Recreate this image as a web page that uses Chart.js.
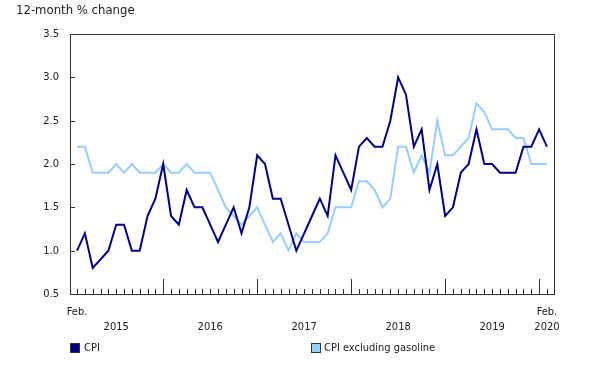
<!DOCTYPE html>
<html>
<head>
<meta charset="utf-8">
<script src="https://cdn.jsdelivr.net/npm/chart.js@4"></script>
<style>
  html, body { margin: 0; padding: 0; background: #fff; }
  #wrap { position: relative; width: 613px; height: 367px; font-family: "DejaVu Sans Condensed", "DejaVu Sans", Verdana, sans-serif; font-stretch: condensed; color: #1a1a1a; }
  #c { position: absolute; left: 0; top: 0; }
  .t { position: absolute; white-space: nowrap; }
  #title { left: 16px; top: 2px; font-size: 13px; }
  .sw { position: absolute; width: 8px; height: 8px; border: 1px solid #333; }
  .lg { font-size: 11px; }
</style>
</head>
<body>
<div id="wrap">
  <canvas id="c" width="613" height="367"></canvas>
  <div id="title" class="t">12-month % change</div>
  <div class="sw" style="left:70px;top:343px;background:#000080;"></div>
  <div class="t lg" style="left:84px;top:341px;">CPI</div>
  <div class="sw" style="left:311px;top:343px;background:#99ccff;"></div>
  <div class="t lg" style="left:324px;top:341px;">CPI excluding gasoline</div>
</div>
<script>
// Months Feb 2015 .. Feb 2020 (61 points)
const startYear = 2015, startMonth = 2;
const cpi = [1.0,1.2,0.8,0.9,1.0,1.3,1.3,1.0,1.0,1.4,1.6,
  2.0,1.4,1.3,1.7,1.5,1.5,1.3,1.1,1.3,1.5,1.2,1.5,
  2.1,2.0,1.6,1.6,1.3,1.0,1.2,1.4,1.6,1.4,2.1,1.9,
  1.7,2.2,2.3,2.2,2.2,2.5,3.0,2.8,2.2,2.4,1.7,2.0,
  1.4,1.5,1.9,2.0,2.4,2.0,2.0,1.9,1.9,1.9,2.2,2.2,
  2.4,2.2];
const cpiExGas = [2.2,2.2,1.9,1.9,1.9,2.0,1.9,2.0,1.9,1.9,1.9,
  2.0,1.9,1.9,2.0,1.9,1.9,1.9,1.7,1.5,1.4,1.3,1.4,
  1.5,1.3,1.1,1.2,1.0,1.2,1.1,1.1,1.1,1.2,1.5,1.5,
  1.5,1.8,1.8,1.7,1.5,1.6,2.2,2.2,1.9,2.1,1.9,2.5,
  2.1,2.1,2.2,2.3,2.7,2.6,2.4,2.4,2.4,2.3,2.3,2.0,
  2.0,2.0];
const yTicks = [0.5,1.0,1.5,2.0,2.5,3.0,3.5];
const yearLabels = ["2015","2016","2017","2018","2019","2020"];
const seriesNames = ["CPI","CPI excluding gasoline"];

const FONT = '"DejaVu Sans Condensed", "DejaVu Sans", Verdana, sans-serif';
const n = cpi.length;
const idx = Array.from({length: n}, (_, i) => i);
const janIdx = idx.filter(i => (startMonth - 1 + i) % 12 === 0);

const axisPlugin = {
  id: 'axisPlugin',
  afterDatasetsDraw(chart) {
    const ctx = chart.ctx, a = chart.chartArea, x = chart.scales.x, y = chart.scales.y;
    ctx.save();
    ctx.strokeStyle = '#333';
    ctx.lineWidth = 1;
    ctx.strokeRect(Math.round(a.left) + 0.5, Math.round(a.top) + 0.5, Math.round(a.right - a.left), Math.round(a.bottom - a.top));
    yTicks.forEach(v => {
      const py = Math.round(y.getPixelForValue(v)) + 0.5;
      ctx.beginPath(); ctx.moveTo(a.left, py); ctx.lineTo(a.left + 5, py); ctx.stroke();
    });
    idx.forEach(i => {
      const px = Math.round(x.getPixelForValue(i)) + 0.5;
      const len = janIdx.includes(i) ? 15 : 5;
      ctx.beginPath(); ctx.moveTo(px, a.bottom); ctx.lineTo(px, a.bottom - len); ctx.stroke();
    });
    ctx.fillStyle = '#1a1a1a';
    ctx.font = '11px ' + FONT;
    if ('fontStretch' in ctx) ctx.fontStretch = 'condensed';
    ctx.textAlign = 'center';
    ctx.textBaseline = 'middle';
    ctx.fillText('Feb.', x.getPixelForValue(0), a.bottom + 18);
    ctx.fillText('Feb.', x.getPixelForValue(n - 1), a.bottom + 18);
    const bounds = [-1, ...janIdx];
    for (let k = 0; k < yearLabels.length - 1; k++) {
      const c = (bounds[k] + bounds[k + 1]) / 2;
      ctx.fillText(yearLabels[k], x.getPixelForValue(c), a.bottom + 33);
    }
    ctx.fillText(yearLabels[yearLabels.length - 1], x.getPixelForValue(n - 1), a.bottom + 33);
    ctx.restore();
  }
};

new Chart(document.getElementById('c'), {
  type: 'line',
  data: {
    datasets: [
      { label: seriesNames[0], data: idx.map(i => ({x: i, y: cpi[i]})), borderColor: '#000080', borderWidth: 2, pointRadius: 0, tension: 0, fill: false },
      { label: seriesNames[1], data: idx.map(i => ({x: i, y: cpiExGas[i]})), borderColor: '#99ccff', borderWidth: 2, pointRadius: 0, tension: 0, fill: false }
    ]
  },
  options: {
    responsive: false,
    animation: false,
    layout: { padding: { left: 20, right: 59, top: 34, bottom: 73 } },
    plugins: { legend: { display: false }, tooltip: { enabled: false }, title: { display: false } },
    scales: {
      x: { type: 'linear', min: -0.9, max: 60.9, display: false },
      y: {
        min: 0.5, max: 3.5,
        afterFit(s) { s.width = 50; },
        afterBuildTicks(s) { s.ticks = yTicks.map(v => ({value: v})); },
        grid: { display: false, drawTicks: false },
        border: { display: false },
        ticks: { padding: 11, color: '#1a1a1a', font: { size: 11, family: FONT }, callback: v => v.toFixed(1) }
      }
    }
  },
  plugins: [axisPlugin]
});
</script>
</body>
</html>
